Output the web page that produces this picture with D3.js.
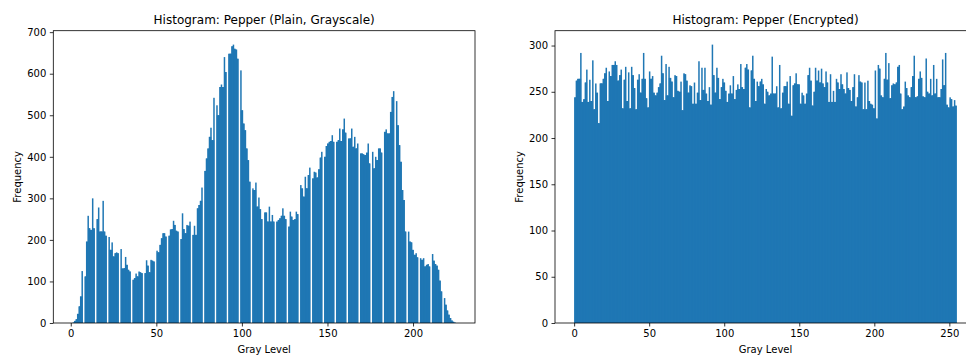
<!DOCTYPE html>
<html><head><meta charset="utf-8">
<script src="https://cdn.jsdelivr.net/npm/d3@7"></script>
<style>
html,body{margin:0;padding:0;background:#fff;overflow:hidden;}
svg{display:block;font-family:"DejaVu Sans",sans-serif;}
</style></head><body>
<svg id="chart" width="966" height="356"></svg>
<script>
// ---------- DATA ----------
// Plain image: pixel counts per gray level, starting at level 1 (levels 1..225)
const plainFirstLevel = 1;
const plainCounts = [
  1, 5, 9, 22, 40, 64, 125,
  112, 196, 258, 228, 224, 300, 228,
  250, 278, 220, 220, 294, 220, 210,
  207, 176, 194, 160, 168, 170, 168,
  178, 131, 132, 159, 140, 128, 124,
  104, 108, 119, 112, 124, 122, 120,
  120, 151, 138, 122, 152, 150, 148,
  174, 170, 188, 204, 216, 216, 208,
  210, 225, 226, 246, 236, 222, 220,
  202, 264, 226, 216, 236, 234, 244,
  212, 234, 212, 276, 284, 294, 326,
  366, 396, 420, 448, 470, 440, 542,
  524, 500, 568, 574, 568, 640, 604,
  648, 648, 666, 670, 660, 658, 636,
  608, 512, 480, 464, 420, 392, 340,
  324, 320, 338, 280, 302, 274, 250,
  266, 266, 244, 280, 244, 260, 244,
  244, 248, 252, 258, 276, 258, 250,
  232, 268, 256, 248, 250, 268, 262,
  332, 324, 304, 352, 324, 356, 374,
  348, 364, 362, 350, 370, 398, 412,
  400, 426, 432, 436, 438, 452, 436,
  436, 440, 468, 438, 466, 492, 458,
  444, 444, 468, 424, 448, 420, 432,
  408, 408, 406, 404, 410, 432, 384,
  412, 372, 400, 392, 420, 420, 410,
  460, 466, 456, 456, 508, 544, 558,
  534, 476, 428, 388, 320, 296, 220,
  220, 196, 194, 176, 164, 168, 158,
  156, 152, 156, 136, 140, 142, 136,
  166, 150, 142, 138, 128, 102, 76,
  60, 44, 30, 20, 12, 6, 3,
  1
];
// Encrypted image: pixel counts per gray level 0..255
const encFirstLevel = 0;
const encCounts = [
  244,262,264,264,292,239,242,260,274,239,
  263,240,284,231,259,249,216,259,259,264,
  270,276,240,272,267,279,279,283,279,262,
  268,274,232,263,277,240,271,232,277,268,
  254,231,263,269,249,264,292,264,243,233,
  272,264,267,249,246,249,255,259,289,270,
  241,280,246,277,265,261,244,268,267,251,
  250,261,230,270,269,262,249,257,256,237,
  260,237,249,283,241,276,252,276,248,240,
  255,236,301,268,249,276,265,242,255,264,
  260,251,239,248,257,248,267,242,252,258,
  253,280,255,253,276,280,274,233,273,289,
  264,240,261,256,261,264,258,237,253,250,
  246,248,288,248,248,256,233,279,232,249,
  256,256,261,237,267,224,257,259,270,258,
  258,237,249,246,237,248,268,276,262,235,
  250,276,262,273,260,275,259,255,272,260,
  239,269,239,251,239,264,260,253,269,258,
  253,248,271,254,252,240,255,269,234,244,
  268,261,260,231,260,231,262,240,237,236,
  232,273,221,279,275,246,244,264,292,263,
  281,243,257,259,258,260,277,279,248,231,
  234,261,254,246,244,255,267,289,244,245,
  264,272,265,245,244,286,250,248,264,246,
  279,248,264,244,244,253,285,257,292,236,
  233,244,242,234,241,235
];
const panelTitles = ["Histogram: Pepper (Plain, Grayscale)", "Histogram: Pepper (Encrypted)"];
const xAxisLabel = "Gray Level";
const yAxisLabel = "Frequency";
const plainXTicks = [0, 50, 100, 150, 200];
const plainYTicks = [0, 100, 200, 300, 400, 500, 600, 700];
const encXTicks = [0, 50, 100, 150, 200, 250];
const encYTicks = [0, 50, 100, 150, 200, 250, 300];
const NUM_BINS = 256;

// ---------- DRAW ----------
const BAR = "#1f77b4";
const svg = d3.select("#chart");

// histogram of per-level counts into NUM_BINS equal bins spanning [min level, max level]
function binCounts(firstLevel, counts) {
  const levels = counts.map((c, i) => firstLevel + i);
  const lo = d3.min(levels), hi = d3.max(levels);
  const w = (hi - lo) / NUM_BINS;
  const bins = d3.range(NUM_BINS).map(i => ({i, x0: lo + i * w, x1: lo + (i + 1) * w, n: 0}));
  levels.forEach((v, i) => {
    const k = Math.min(NUM_BINS - 1, Math.floor((v - lo) / w));
    bins[k].n += counts[i];
  });
  return {bins, lo, hi};
}

function panel(box, firstLevel, counts, xTicks, yTicks, title, ylabX) {
  const {bins, lo, hi} = binCounts(firstLevel, counts);
  const pad = 0.05 * (hi - lo);
  const x = d3.scaleLinear().domain([lo - pad, hi + pad]).range([box.left, box.right]);
  const ymax = d3.max(bins, b => b.n) * 1.05;
  const y = d3.scaleLinear().domain([0, ymax]).range([box.bottom, box.top]);
  const g = svg.append("g");

  g.append("g").selectAll("rect").data(bins.filter(b => b.n > 0)).join("rect")
    .attr("x", b => x(b.x0))
    .attr("width", b => x(b.x1) - x(b.x0))
    .attr("y", b => y(b.n))
    .attr("height", b => y(0) - y(b.n))
    .attr("fill", BAR);

  // fillers over the shared edge of adjacent non-empty bins (up to the lower of the two)
  // so antialiasing leaves no seam; empty bins stay as white gaps
  const seams = bins.filter(b => b.n > 0 && b.i + 1 < NUM_BINS && bins[b.i + 1].n > 0)
    .map(b => ({x: b.x1, n: Math.min(b.n, bins[b.i + 1].n)}));
  g.append("g").selectAll("rect").data(seams).join("rect")
    .attr("x", s => x(s.x) - 1)
    .attr("width", 2)
    .attr("y", s => y(s.n))
    .attr("height", s => y(0) - y(s.n))
    .attr("fill", BAR);

  // spines
  g.append("rect")
    .attr("x", box.left).attr("y", box.top)
    .attr("width", box.right - box.left).attr("height", box.bottom - box.top)
    .attr("fill", "none").attr("stroke", "#000").attr("stroke-width", 0.8);

  const xa = g.append("g").attr("transform", `translate(0,${box.bottom})`)
    .call(d3.axisBottom(x).tickValues(xTicks).tickSize(3.5).tickPadding(3.5).tickFormat(d3.format("d")));
  const ya = g.append("g").attr("transform", `translate(${box.left},0)`)
    .call(d3.axisLeft(y).tickValues(yTicks).tickSize(3.5).tickPadding(3.5).tickFormat(d3.format("d")));
  [xa, ya].forEach(a => {
    a.select(".domain").remove();
    a.selectAll(".tick line").attr("stroke", "#000").attr("stroke-width", 0.8);
    a.selectAll(".tick text").attr("fill", "#000").style("font-size", "10px")
      .style("font-family", "'DejaVu Sans', sans-serif");
  });

  g.append("text")
    .attr("x", (box.left + box.right) / 2).attr("y", 23.5)
    .attr("text-anchor", "middle").style("font-size", "12px").attr("fill", "#000")
    .text(title);
  g.append("text")
    .attr("x", (box.left + box.right) / 2).attr("y", 352.5)
    .attr("text-anchor", "middle").style("font-size", "10px").attr("fill", "#000")
    .text(xAxisLabel);
  g.append("text")
    .attr("transform", `translate(${ylabX},${(box.top + box.bottom) / 2}) rotate(-90)`)
    .attr("text-anchor", "middle").style("font-size", "10px").attr("fill", "#000")
    .text(yAxisLabel);
}

panel({left: 53.3, right: 475, top: 30.7, bottom: 323}, plainFirstLevel, plainCounts,
      plainXTicks, plainYTicks, panelTitles[0], 21);
panel({left: 555, right: 976, top: 30.7, bottom: 323}, encFirstLevel, encCounts,
      encXTicks, encYTicks, panelTitles[1], 523);
</script>
</body></html>
